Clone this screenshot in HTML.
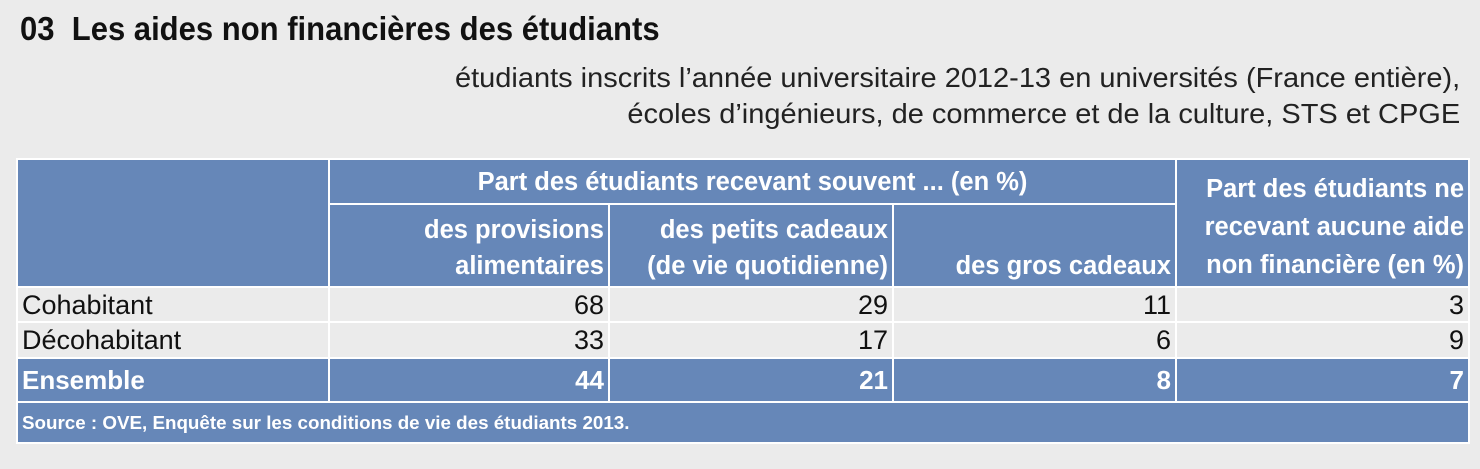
<!DOCTYPE html>
<html><head><meta charset="utf-8"><style>
body{margin:0;width:1480px;height:469px;background:#ebebeb;font-family:"Liberation Sans",Arial,sans-serif;overflow:hidden;position:relative}
.t{position:absolute;left:20px;top:10px;font-size:33px;font-weight:bold;color:#111;transform:scaleX(0.94);transform-origin:left;white-space:nowrap}
.s{position:absolute;right:20px;top:60px;font-size:28px;color:#222;text-align:right;line-height:36px;transform:scaleX(1.035);transform-origin:right;white-space:nowrap}
table{position:absolute;left:16px;top:158px;width:1452px;border-collapse:collapse;font-size:27px;table-layout:fixed}
td{border:2px solid #fff;padding:0 4px;text-align:right;line-height:30px;box-sizing:border-box;white-space:nowrap;overflow:hidden}
.b{background:#6687b8;color:#fff;font-weight:bold}
.h{font-size:25.5px;line-height:36px}
.g{background:#ebebeb;color:#111}
.l{text-align:left}
</style></head><body>
<div class="t">03&nbsp;&nbsp;Les aides non financières des étudiants</div>
<div class="s">étudiants inscrits l’année universitaire 2012-13 en universités (France entière),<br>écoles d’ingénieurs, de commerce et de la culture, STS et CPGE</div>
<table>
<colgroup><col style="width:312px"><col style="width:280px"><col style="width:284px"><col style="width:283px"><col style="width:293px"></colgroup>
<tr style="height:45px"><td class="b" rowspan="2"></td><td class="b h" colspan="3" style="text-align:center">Part des étudiants recevant souvent ... (en %)</td><td class="b h" rowspan="2" style="vertical-align:bottom;padding-bottom:2px;line-height:38px">Part des étudiants ne<br>recevant aucune aide<br>non financière (en %)</td></tr>
<tr style="height:83px"><td class="b h" style="vertical-align:bottom;padding-bottom:2px">des provisions<br>alimentaires</td><td class="b h" style="vertical-align:bottom;padding-bottom:2px">des petits cadeaux<br>(de vie quotidienne)</td><td class="b h" style="vertical-align:bottom;padding-bottom:2px">des gros cadeaux</td></tr>
<tr style="height:35px" class="g"><td class="l">Cohabitant</td><td>68</td><td>29</td><td>11</td><td>3</td></tr>
<tr style="height:36px" class="g"><td class="l">Décohabitant</td><td>33</td><td>17</td><td>6</td><td>9</td></tr>
<tr style="height:44px"><td class="b l" style="font-size:26px">Ensemble</td><td class="b" style="font-size:26px">44</td><td class="b" style="font-size:26px">21</td><td class="b" style="font-size:26px">8</td><td class="b" style="font-size:26px">7</td></tr>
<tr style="height:41px"><td class="b l" colspan="5" style="font-size:18.8px">Source : OVE, Enquête sur les conditions de vie des étudiants 2013.</td></tr>
</table>
</body></html>
